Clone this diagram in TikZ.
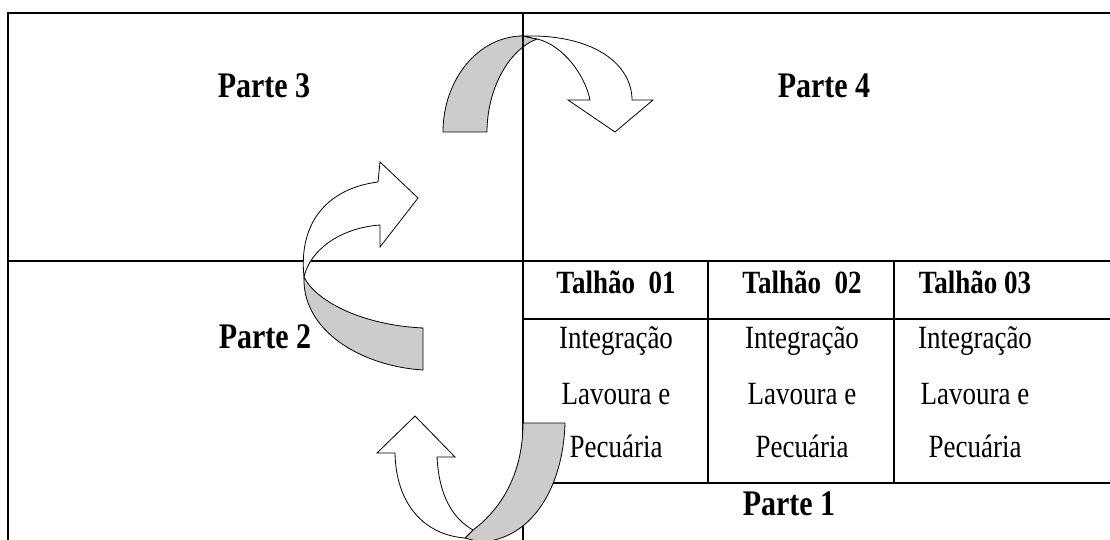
\documentclass[tikz,border=0pt]{standalone}
\usepackage{fontspec}
\setmainfont{Liberation Serif}
\usepackage{graphicx}
\definecolor{bandgray}{RGB}{204,204,204}
\newcommand{\tallbox}[1]{\scalebox{1}[1.2]{#1}}
\tikzset{
  partlabel/.style={anchor=base, inner sep=0pt, font=\bfseries\fontsize{30}{36}\selectfont},
  cellhead/.style={anchor=base, inner sep=0pt, font=\bfseries\fontsize{27}{32}\selectfont},
  celltext/.style={anchor=base, inner sep=0pt, font=\fontsize{27}{32}\selectfont},
  gridline/.style={line width=1.5pt},
  backband/.style={draw, line width=0.8pt, fill=bandgray},
  frontband/.style={draw, line width=0.8pt, fill=white},
}
\begin{document}
\begin{tikzpicture}[x=1pt,y=1pt,yscale=-1,xscale=1]
\useasboundingbox (0,0) rectangle (1110,540);
\clip (0,0) rectangle (1110,540);

%Frame and middle line
\draw [gridline] (8,560) -- (8,13) -- (1120,13);
\draw [gridline] (8,261) -- (1120,261);
%Table of Parte 1
\draw [gridline] (523,319) -- (1120,319);
\draw [gridline] (523,483) -- (1120,483);
\draw [gridline] (708,261) -- (708,483);
\draw [gridline] (894,261) -- (894,483);

%Curved arrow: Parte 2 -> Parte 3
\draw [backband] (304,277) .. controls (302,330) and (360,366) .. (423,370) -- (423,328) .. controls (360,325) and (315,300) .. (304,277) -- cycle;
\draw [frontband] (304,277) .. controls (298,220) and (330,188) .. (378,182) -- (380,162) -- (418,198) -- (380,247) -- (380,225) .. controls (340,228) and (310,250) .. (304,277) -- cycle;

%Curved arrow: Parte 3 -> Parte 4
\draw [backband] (443,132) .. controls (443,80) and (478,36) .. (523,36) -- (537,39) .. controls (508,50) and (487,90) .. (487,132) -- cycle;
\draw [frontband] (523,36) .. controls (595,34) and (632,65) .. (632,100) -- (653,100) -- (615,132) -- (568,100) -- (590,100) .. controls (585,75) and (563,45) .. (537,39) -- cycle;

%Middle vertical line
\draw [gridline] (523,13) -- (523,560);

%Curved arrow: Parte 1 -> Parte 2
\draw [backband] (523,423) -- (565,423) .. controls (563,490) and (530,540) .. (480,542) -- (465,538) -- (473,530) .. controls (500,510) and (523,475) .. (523,423) -- cycle;
\draw [frontband] (395,453) .. controls (396,505) and (425,535) .. (465,538) -- (473,530) .. controls (452,518) and (439,495) .. (437,457) -- (455,457) -- (415,416) -- (377,453) -- cycle;

% Text Node
\node [partlabel] (parte3) at (264,98) {\tallbox{Parte 3}};
\node [partlabel] (parte4) at (824,98) {\tallbox{Parte 4}};
\node [partlabel] (parte2) at (265,348) {\tallbox{Parte 2}};
\node [partlabel] (parte1) at (789,515) {\tallbox{Parte 1}};
% Text Node
\node [cellhead] (talhao1) at (616,293) {\tallbox{Talhão~~01}};
\node [cellhead] (talhao2) at (802,293) {\tallbox{Talhão~~02}};
\node [cellhead] (talhao3) at (975,293) {\tallbox{Talhão 03}};
% Text Node
\node [celltext] (integ1) at (616,348) {\tallbox{Integração}};
\node [celltext] (lavou1) at (616,404) {\tallbox{Lavoura e}};
\node [celltext] (pecua1) at (616,457) {\tallbox{Pecuária}};
\node [celltext] (integ2) at (802,348) {\tallbox{Integração}};
\node [celltext] (lavou2) at (802,404) {\tallbox{Lavoura e}};
\node [celltext] (pecua2) at (802,457) {\tallbox{Pecuária}};
\node [celltext] (integ3) at (975,348) {\tallbox{Integração}};
\node [celltext] (lavou3) at (975,404) {\tallbox{Lavoura e}};
\node [celltext] (pecua3) at (975,457) {\tallbox{Pecuária}};

\end{tikzpicture}
\end{document}
